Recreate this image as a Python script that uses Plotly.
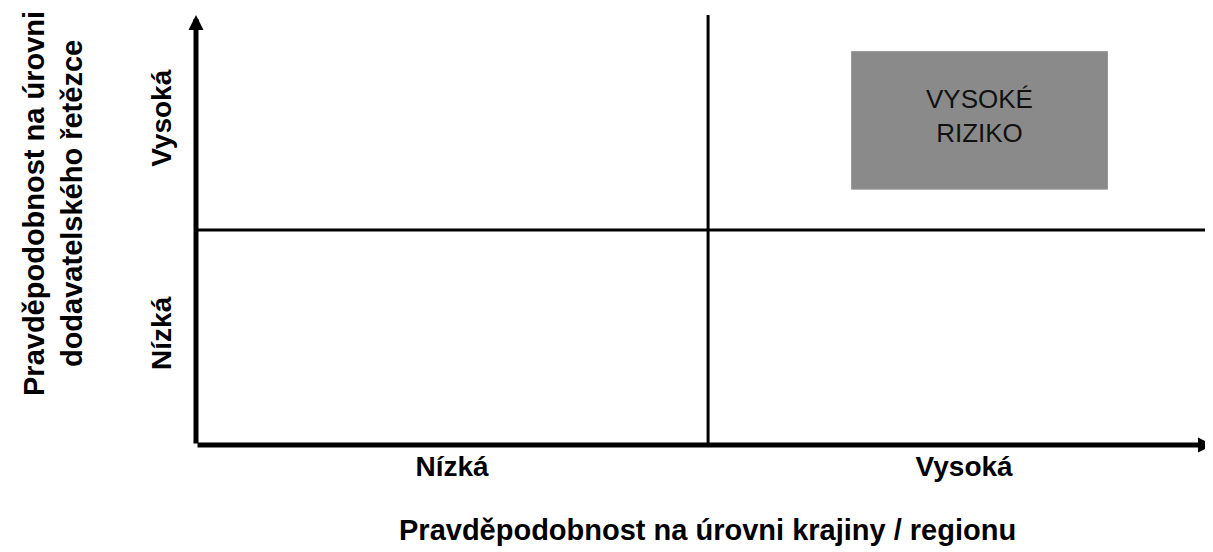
import plotly.graph_objects as go

# ---- data ----
x_categories = ["Nízká", "Vysoká"]
y_categories = ["Nízká", "Vysoká"]
x_title = "Pravděpodobnost na úrovni krajiny / regionu"
y_title = "Pravděpodobnost na úrovni<br>dodavatelského řetězce"
high_risk_label = "VYSOKÉ<br>RIZIKO"
high_risk_x = [1.28, 1.78]
high_risk_y = [1.19, 1.83]
quadrant_split = 1.0

# page body has an 8px margin -> figure drawn from (8, 8)
W, H = 1205, 544
FONT = "Liberation Sans, Arial, sans-serif"

x_range = [0, 1.986]
y_range = [0, 2]

fig = go.Figure()

# high risk box
fig.add_trace(go.Scatter(
    x=[high_risk_x[0], high_risk_x[1], high_risk_x[1], high_risk_x[0], high_risk_x[0]],
    y=[high_risk_y[0], high_risk_y[0], high_risk_y[1], high_risk_y[1], high_risk_y[0]],
    mode="lines", fill="toself", fillcolor="#8a8a8a",
    line=dict(color="#9a9a9a", width=1), hoverinfo="skip", showlegend=False,
))

# quadrant dividers
fig.add_shape(type="line", xref="x", yref="y", x0=quadrant_split, x1=quadrant_split,
              y0=0, y1=y_range[1], line=dict(color="black", width=3))
fig.add_shape(type="line", xref="x", yref="y", x0=0, x1=x_range[1],
              y0=quadrant_split, y1=quadrant_split, line=dict(color="black", width=3))

annotations = [
    # axes with arrows
    dict(x=0, y=y_range[1], ax=0, ay=0, xref="x", yref="y", axref="x", ayref="y",
         text="", showarrow=True, arrowhead=2, arrowsize=0.6, arrowwidth=5, arrowcolor="black"),
    dict(x=x_range[1], y=0, ax=0, ay=0, xref="x", yref="y", axref="x", ayref="y",
         text="", showarrow=True, arrowhead=2, arrowsize=0.6, arrowwidth=5, arrowcolor="black"),
    # box label
    dict(x=(high_risk_x[0] + high_risk_x[1]) / 2, y=(high_risk_y[0] + high_risk_y[1]) / 2 + 0.02,
         xref="x", yref="y", text=high_risk_label, showarrow=False,
         font=dict(family=FONT, size=26, color="#111111")),
    # axis titles
    dict(x=0.5025, y=-0.198, xref="paper", yref="paper", text=x_title, showarrow=False,
         font=dict(family=FONT, size=29, color="black", weight="bold"),
         xanchor="center", yanchor="middle"),
    dict(x=-0.1406, y=0.5605, xref="paper", yref="paper", text=y_title, showarrow=False,
         textangle=-90, font=dict(family=FONT, size=29, color="black", weight="bold"),
         xanchor="center", yanchor="middle"),
]

fig.update_layout(
    width=W, height=H,
    margin=dict(l=188, r=0, t=7, b=107, pad=0),
    paper_bgcolor="white", plot_bgcolor="white",
    showlegend=False,
    annotations=annotations,
    xaxis=dict(range=x_range, showgrid=False, zeroline=False, showline=False,
               tickvals=[0.5, 1.5], ticktext=x_categories, ticks="",
               tickfont=dict(family=FONT, size=28, color="black", weight="bold"),
               ticklabelstandoff=2, fixedrange=True),
    yaxis=dict(range=y_range, showgrid=False, zeroline=False, showline=False,
               tickvals=[0.5, 1.5], ticktext=y_categories, ticks="", tickangle=-90,
               tickfont=dict(family=FONT, size=28, color="black", weight="bold"),
               ticklabelstandoff=18, fixedrange=True),
)

fig.write_html("out.html", config={"displayModeBar": False})
